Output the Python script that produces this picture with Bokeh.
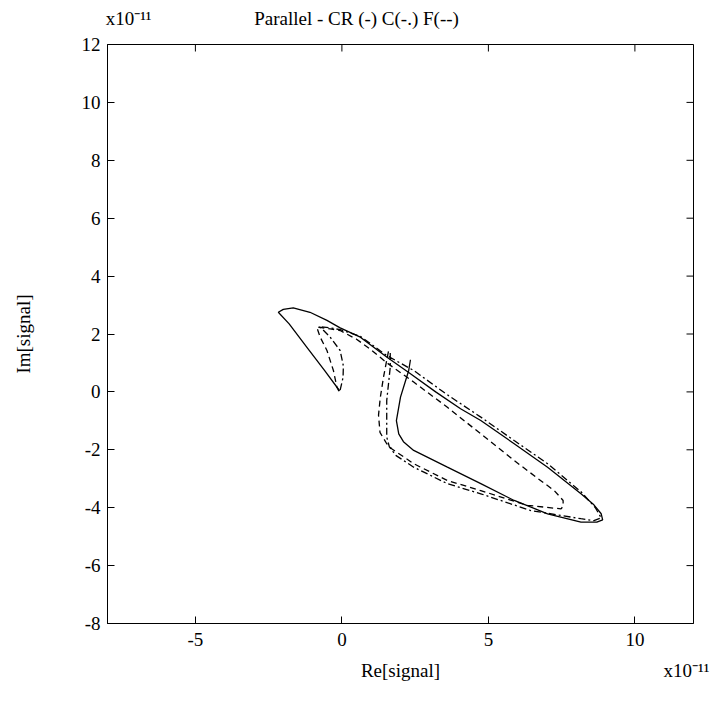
from bokeh.plotting import figure
from bokeh.models import Range1d, FixedTicker, LinearAxis
from bokeh.embed import file_html
from bokeh.resources import INLINE

# ---- data (units of 1e-11) ----
cr_x = [-0.08, -0.6, -1.2, -1.8, -2.17, -2.0, -1.66, -1.09, -0.51, -0.06, 0.63, 1.54, 2.34,
        3.2, 4.05, 4.74, 5.88, 7.02, 8.16, 8.6, 8.85, 8.9, 8.7, 8.16, 7.02, 5.88, 4.74, 3.60,
        2.45, 2.1, 1.94, 1.86, 2.0, 2.28, 2.34]
cr_y = [0.04, 0.75, 1.55, 2.35, 2.75, 2.85, 2.90, 2.75, 2.47, 2.21, 1.89, 1.20, 0.63,
        0.0, -0.58, -0.99, -1.79, -2.60, -3.52, -3.9, -4.21, -4.42, -4.50, -4.50, -4.21, -3.75,
        -3.17, -2.60, -2.02, -1.72, -1.45, -0.99, -0.18, 0.74, 1.11]

c_x = [-0.06, 0.04, 0.05, -0.06, -0.40, -0.68, -0.78, -0.45, -0.06, 0.63, 1.54, 2.45, 3.60,
       4.74, 5.88, 7.02, 8.16, 8.65, 8.85, 8.6, 8.16, 6.45, 4.74, 3.60, 2.45, 1.85, 1.62, 1.53,
       1.53, 1.65, 1.65]
c_y = [0.06, 0.5, 0.9, 1.43, 1.89, 2.18, 2.26, 2.22, 2.15, 1.92, 1.25, 0.74, -0.10,
       -0.87, -1.68, -2.48, -3.45, -4.0, -4.35, -4.45, -4.38, -4.10, -3.52, -3.17, -2.60, -2.2,
       -1.9, -1.56, -0.30, 0.85, 1.45]

f_x = [-0.10, -0.17, -0.29, -0.51, -0.74, -0.86, -0.7, -0.4, -0.06, 0.5, 1.0, 1.54, 2.45,
       3.60, 4.74, 5.88, 6.7, 7.25, 7.55, 7.55, 7.48, 6.34, 4.74, 3.60, 2.45, 1.71, 1.53, 1.3,
       1.25, 1.31, 1.42, 1.55, 1.6]
f_y = [0.02, 0.16, 0.74, 1.43, 1.89, 2.24, 2.22, 2.18, 2.12, 1.82, 1.45, 1.0, 0.34,
       -0.53, -1.45, -2.37, -3.0, -3.41, -3.75, -3.95, -4.04, -3.92, -3.41, -3.06, -2.48, -1.97,
       -1.79, -1.4, -0.8, -0.2, 0.51, 1.2, 1.45]

x_ticks = [-5, 0, 5, 10]
y_ticks = [-8, -6, -4, -2, 0, 2, 4, 6, 8, 10, 12]
x_lim = (-8, 12)
y_lim = (-8, 12)

TITLE = "Parallel - CR (-) C(-.) F(--)"
X_LABEL = "Re[signal]"
Y_LABEL = "Im[signal]"
EXP = "x10\u207b\u00b9\u00b9"

FONT = "Liberation Serif"
FS = "19px"

W, H = 710, 694
ML, MR, MT, MB = 107, 17, 44, 71

p = figure(width=W, height=H, output_backend="svg", toolbar_location=None,
           x_range=Range1d(*x_lim), y_range=Range1d(*y_lim),
           min_border_left=ML, min_border_right=MR, min_border_top=MT, min_border_bottom=MB)
p.title.visible = False
p.grid.visible = False
p.outline_line_color = "black"
p.outline_line_width = 1
p.background_fill_color = "white"
p.border_fill_color = "white"

p.line(cr_x, cr_y, line_color="black", line_width=1.3)
p.line(c_x, c_y, line_color="black", line_width=1.3, line_dash="7 3 2 3")
p.line(f_x, f_y, line_color="black", line_width=1.3, line_dash="6 4")

p.xaxis.ticker = FixedTicker(ticks=x_ticks)
p.yaxis.ticker = FixedTicker(ticks=y_ticks)
p.xaxis.major_label_overrides = {t: str(t) for t in x_ticks}
p.yaxis.major_label_overrides = {t: str(t) for t in y_ticks}
p.yaxis.axis_label = Y_LABEL


def text_style(ax):
    ax.major_label_text_font = FONT
    ax.major_label_text_font_size = FS
    ax.major_label_text_color = "black"
    ax.axis_label_text_font = FONT
    ax.axis_label_text_font_size = FS
    ax.axis_label_text_font_style = "normal"
    ax.axis_label_text_color = "black"


for ax in list(p.xaxis) + list(p.yaxis):
    ax.major_tick_in = 7
    ax.major_tick_out = 0
    ax.minor_tick_in = 0
    ax.minor_tick_out = 0
    ax.axis_line_color = "black"
    ax.major_tick_line_color = "black"
    text_style(ax)

p.xaxis.major_label_standoff = 9
p.yaxis.major_label_standoff = 7
p.yaxis.axis_label_standoff = 45

plot_w = W - ML - MR
plot_h = H - MT - MB
px_x = (x_lim[1] - x_lim[0]) / plot_w
px_y = (y_lim[1] - y_lim[0]) / plot_h

# inward tick marks on the top and right edges (box on), from the tick lists
dx = 7 * px_x
dy = 7 * px_y
p.segment(x0=x_ticks, y0=[y_lim[1]] * len(x_ticks), x1=x_ticks,
          y1=[y_lim[1] - dy] * len(x_ticks), line_color="black", line_width=1)
p.segment(x0=[x_lim[1]] * len(y_ticks), y0=y_ticks, x1=[x_lim[1] - dx] * len(y_ticks),
          y1=y_ticks, line_color="black", line_width=1)


def xpos(pix):
    return round(x_lim[0] + (pix - ML) * px_x, 2)


# text rows above and below the frame (title / exponent, x label / exponent)
t_exp, t_title = xpos(128), xpos(356)
top = LinearAxis(ticker=FixedTicker(ticks=[t_exp, t_title]),
                 major_label_overrides={t_exp: EXP, t_title: TITLE},
                 major_tick_in=0, major_tick_out=0, minor_tick_in=0, minor_tick_out=0,
                 axis_line_color=None, major_label_standoff=16)
text_style(top)
p.add_layout(top, "above")

b_lab, b_exp = xpos(400), xpos(686)
bottom = LinearAxis(ticker=FixedTicker(ticks=[b_lab, b_exp]),
                    major_label_overrides={b_lab: X_LABEL, b_exp: EXP},
                    major_tick_in=0, major_tick_out=0, minor_tick_in=0, minor_tick_out=0,
                    axis_line_color=None, major_label_standoff=11)
text_style(bottom)
p.add_layout(bottom, "below")

html = file_html(p, INLINE)
open("out.html", "w").write(html)
